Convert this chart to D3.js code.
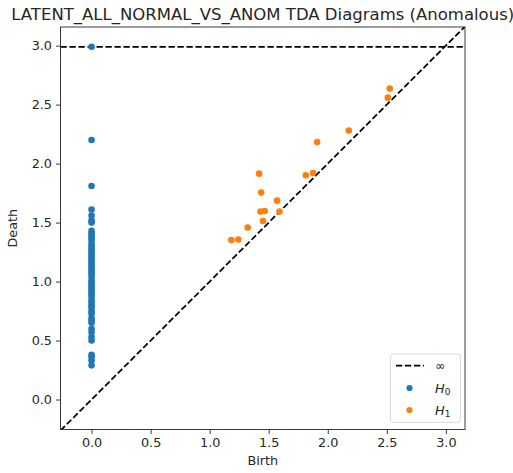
<!DOCTYPE html>
<html><head><meta charset="utf-8">
<script src="https://cdn.jsdelivr.net/npm/d3@7"></script>
<style>body{margin:0;background:#fff}svg{display:block}text{font-family:"DejaVu Sans",sans-serif;fill:#262626}</style>
</head><body><svg id="c" width="513" height="473"></svg>
<script>
const title = "LATENT_ALL_NORMAL_VS_ANOM TDA Diagrams (Anomalous)";
const xTicks = [0.0, 0.5, 1.0, 1.5, 2.0, 2.5, 3.0];
const yTicks = [0.0, 0.5, 1.0, 1.5, 2.0, 2.5, 3.0];
const infValue = 2.99;
const h0Births = 0.0;
const h0Deaths = [0.29, 0.33, 0.36, 0.38, 0.50, 0.53, 0.57, 0.60, 0.65, 0.67, 0.69, 0.73, 0.75, 0.78, 0.80, 0.82, 0.84,
  0.87, 0.89, 0.91, 0.93, 0.95, 0.97, 0.99, 1.01, 1.04, 1.06, 1.08, 1.10, 1.12, 1.14, 1.16, 1.18, 1.20, 1.22, 1.24,
  1.26, 1.28, 1.30, 1.32, 1.35, 1.37, 1.39, 1.41, 1.43, 1.50, 1.52, 1.56, 1.61, 1.81, 2.20];
const h0InfCount = 1;
const h1Births = [2.525, 2.508, 2.178, 1.910, 1.876, 1.814, 1.419, 1.436, 1.571, 1.430, 1.466, 1.591, 1.452, 1.322, 1.184, 1.243];
const h1Deaths = [2.636, 2.559, 2.280, 2.183, 1.920, 1.901, 1.915, 1.754, 1.686, 1.593, 1.598, 1.593, 1.514, 1.458, 1.353, 1.356];
const domain = [-0.263, 3.162];

const svg = d3.select("#c");
const L = 60.5, R = 465, T = 27, B = 429.5;
const x = d3.scaleLinear().domain(domain).range([L, R]);
const y = d3.scaleLinear().domain([-0.254, 3.158]).range([B, T]);
const dash = "6.3,2.7", dashW = 1.75;

svg.append("clipPath").attr("id","cp").append("rect").attr("x",L).attr("y",T).attr("width",R-L).attr("height",B-T);
const g = svg.append("g").attr("clip-path","url(#cp)");

g.append("line").attr("x1",x(domain[0])).attr("y1",y(domain[0])).attr("x2",x(domain[1])).attr("y2",y(domain[1]))
  .attr("stroke","#000").attr("stroke-width",dashW).attr("stroke-dasharray",dash);
g.append("line").attr("x1",L).attr("x2",R).attr("y1",y(infValue)).attr("y2",y(infValue))
  .attr("stroke","#000").attr("stroke-width",dashW).attr("stroke-dasharray",dash);

const h0 = h0Deaths.map(d=>({b:h0Births,d})).concat(d3.range(h0InfCount).map(()=>({b:h0Births,d:infValue})));
g.selectAll(".h0").data(h0).join("circle").attr("cx",d=>x(d.b)).attr("cy",d=>y(d.d)).attr("r",3.3).attr("fill","#1f77b4");
const h1 = h1Births.map((b,i)=>({b,d:h1Deaths[i]}));
g.selectAll(".h1").data(h1).join("circle").attr("cx",d=>x(d.b)).attr("cy",d=>y(d.d)).attr("r",3.3).attr("fill","#ff7f0e");

const xa = svg.append("g").attr("transform",`translate(0,${B})`)
  .call(d3.axisBottom(x).tickValues(xTicks).tickFormat(d3.format(".1f")).tickSize(4.5).tickPadding(4));
const ya = svg.append("g").attr("transform",`translate(${L},0)`)
  .call(d3.axisLeft(y).tickValues(yTicks).tickFormat(d3.format(".1f")).tickSize(4.5).tickPadding(4));
[xa,ya].forEach(a=>{a.select(".domain").remove();a.selectAll("line").attr("stroke","#262626").attr("stroke-width",0.9);
  a.selectAll("text").attr("font-size",12.8).attr("font-family","DejaVu Sans").attr("fill","#262626");});
svg.append("rect").attr("x",L).attr("y",T).attr("width",R-L).attr("height",B-T).attr("fill","none").attr("stroke","#262626").attr("stroke-width",0.9);

svg.append("text").attr("x",(L+R)/2).attr("y",465).attr("text-anchor","middle").attr("font-size",12.8).text("Birth");
svg.append("text").attr("transform",`translate(17,${(T+B)/2}) rotate(-90)`).attr("text-anchor","middle").attr("font-size",12.8).text("Death");
svg.append("text").attr("x",(L+R)/2).attr("y",20).attr("text-anchor","middle").attr("font-size",16.5).text(title);

const lg = svg.append("g");
lg.append("rect").attr("x",390.5).attr("y",354).attr("width",70).attr("height",68.5).attr("rx",3)
  .attr("fill","#fff").attr("fill-opacity",0.8).attr("stroke","#d6d6d6").attr("stroke-width",0.9);
lg.append("line").attr("x1",396).attr("x2",424).attr("y1",365.5).attr("y2",365.5).attr("stroke","#000").attr("stroke-width",dashW).attr("stroke-dasharray",dash);
lg.append("text").attr("x",435).attr("y",370).attr("font-size",12.8).text("∞");
const items = [{c:"#1f77b4",s:"0",y:388},{c:"#ff7f0e",s:"1",y:410}];
items.forEach(it=>{
  lg.append("circle").attr("cx",409.5).attr("cy",it.y).attr("r",3.1).attr("fill",it.c);
  const t = lg.append("text").attr("x",435).attr("y",it.y+4.5).attr("font-size",12.8);
  t.append("tspan").attr("font-style","italic").text("H");
  t.append("tspan").attr("font-size",9).attr("dy",2.5).text(it.s);
});
</script></body></html>
